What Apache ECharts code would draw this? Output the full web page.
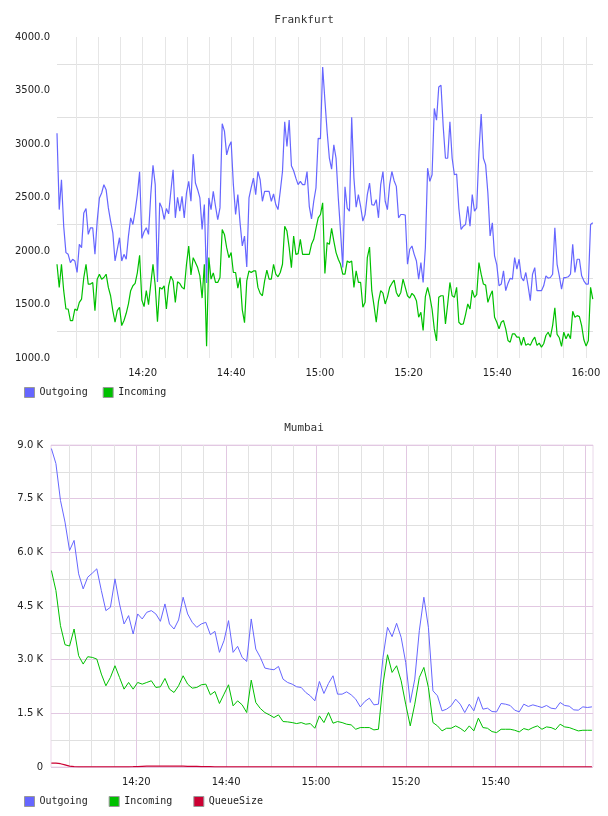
<!DOCTYPE html>
<html lang="en">
<head>
<meta charset="utf-8">
<title>Frankfurt / Mumbai</title>
<script src="https://cdn.jsdelivr.net/npm/echarts@6/dist/echarts.min.js"></script>
<style>
  body { margin: 0; background: #fff; }
  #main { width: 608px; height: 816px; }
</style>
</head>
<body>
<div id="main"></div>
<script type="text/javascript">
  // time is kept in minutes after 14:00
  // Frankfurt: one sample every 30 s from 14:00:40
  var fraStart = 40 / 60;
  var fraStep = 0.5;
  var fraOutgoing = [
    3100, 2387, 2666, 2232, 1985, 1969, 1892, 1923, 1907, 1799,
    2062, 2031, 2356, 2397, 2155, 2217, 2217, 1969, 2279, 2496,
    2542, 2620, 2573, 2403, 2279, 2170, 1907, 2015, 2124, 1907,
    1969, 1923, 2139, 2310, 2248, 2372, 2527, 2740, 2118, 2180,
    2217, 2155, 2527, 2800, 2620, 1710, 2450, 2403, 2295, 2397,
    2347, 2558, 2759, 2310, 2502, 2372, 2511, 2310, 2542, 2651,
    2465, 2905, 2635, 2573, 2496, 2202, 2434, 1700, 2496, 2387,
    2558, 2418, 2294, 2403, 3190, 3120, 2898, 2976, 3022, 2620,
    2341, 2527, 2263, 2047, 2140, 1850, 2496, 2595, 2681, 2527,
    2743, 2666, 2465, 2558, 2558, 2558, 2465, 2533, 2434, 2387,
    2558, 2743, 3208, 2976, 3223, 2796, 2750, 2681, 2620, 2651,
    2620, 2620, 2743, 2418, 2300, 2465, 2589, 3053, 3050, 3720,
    3409, 3115, 2867, 2765, 2992, 2867, 2496, 2186, 1845, 2600,
    2400, 2372, 3250, 2681, 2409, 2527, 2418, 2279, 2341, 2527,
    2635, 2434, 2428, 2480, 2310, 2620, 2743, 2465, 2387, 2620,
    2743, 2657, 2604, 2310, 2341, 2341, 2335, 1876, 2016, 2047,
    1969, 1907, 1737, 1892, 1706, 2031, 2774, 2651, 2713, 3332,
    3223, 3533, 3549, 3161, 2867, 2867, 3208, 2867, 2713, 2720,
    2400, 2201, 2232, 2248, 2418, 2232, 2527, 2372, 2403, 2929,
    3280, 2867, 2805, 2542, 2140, 2263, 1954, 1870, 1675, 1691,
    1814, 1629, 1697, 1746, 1737, 1938, 1830, 1923, 1752, 1721,
    1799, 1675, 1536, 1783, 1845, 1629, 1629, 1629, 1675, 1768,
    1746, 1752, 1783, 2217, 1876, 1768, 1644, 1752, 1752, 1759,
    1783, 2062, 1799, 1923, 1923, 1768, 1721, 1691, 1691, 2248,
    2263
  ];
  var fraIncoming = [
    1876, 1660, 1876, 1629, 1458, 1458, 1350, 1350, 1458, 1443,
    1520, 1551, 1752, 1876, 1691, 1691, 1706, 1443, 1737, 1783,
    1737, 1752, 1783, 1660, 1582, 1443, 1334, 1443, 1474, 1303,
    1350, 1418, 1505, 1629, 1675, 1697, 1799, 1960, 1542, 1480,
    1629, 1498, 1691, 1876, 1675, 1340, 1660, 1644, 1675, 1458,
    1675, 1765, 1721, 1520, 1712, 1697, 1660, 1644, 1876, 2046,
    1777, 1938, 1892, 1845, 1768, 1560, 1876, 1110, 1938, 1737,
    1796, 1706, 1706, 1752, 2200, 2155, 2031, 1938, 1985, 1799,
    1799, 1653, 1752, 1450, 1330, 1721, 1814, 1799, 1814, 1814,
    1660, 1604, 1582, 1721, 1821, 1737, 1737, 1876, 1783, 1759,
    1799, 1876, 2232, 2186, 2031, 1845, 2140, 1969, 1976, 2109,
    1969, 1969, 1969, 1969, 2062, 2109, 2211, 2310, 2341, 2450,
    1790, 2078, 2062, 2211, 2093, 1985, 1923, 1876, 1783, 1783,
    1907, 1892, 1907, 1660, 1814, 1706, 1706, 1474, 1520, 1938,
    2037, 1629, 1489, 1334, 1529, 1629, 1607, 1505, 1567, 1660,
    1697, 1728, 1613, 1573, 1613, 1737, 1660, 1582, 1560, 1604,
    1582, 1536, 1381, 1427, 1257, 1573, 1660, 1573, 1458, 1272,
    1160, 1567, 1582, 1582, 1319, 1505, 1706, 1582, 1567, 1660,
    1334, 1313, 1319, 1406, 1505, 1458, 1635, 1567, 1592, 1892,
    1783, 1691, 1681, 1520, 1582, 1629, 1381, 1334, 1272, 1334,
    1350, 1272, 1164, 1148, 1226, 1226, 1195, 1195, 1118, 1195,
    1118, 1133, 1118, 1164, 1195, 1118, 1139, 1102, 1133, 1210,
    1241, 1195, 1303, 1470, 1220, 1189, 1108, 1241, 1180, 1226,
    1180, 1437, 1381, 1396, 1387, 1303, 1170, 1111, 1164, 1660,
    1551
  ];

  // Mumbai: one sample per minute from 14:01:05
  var mumStart = 65 / 60;
  var mumStep = 1;
  var mumOutgoing = [
    8901, 8481, 7453, 6846, 6052, 6333, 5399, 4978, 5305, 5417,
    5539, 4932, 4371, 4465, 5258, 4558, 3998, 4231, 3717, 4278,
    4138, 4324, 4371, 4278, 4072, 4558, 3998, 3857, 4110, 4745,
    4278, 4044, 3904, 3998, 4044, 3699, 3792, 3204, 3531, 4091,
    3204, 3372, 3064, 2951, 4138, 3297, 3064, 2765, 2737, 2718,
    2811, 2456, 2363, 2316, 2242, 2223, 2083, 1989, 1849, 2391,
    2055, 2335, 2550, 2036, 2036, 2101, 2017, 1896, 1681, 1831,
    1924, 1737, 1756, 3064, 3904, 3643, 4016, 3624, 2923, 1803,
    2456, 3811, 4745, 3904, 2130, 1989, 1569, 1616, 1709, 1896,
    1756, 1522, 1756, 1569, 1961, 1616, 1644, 1550, 1541, 1775,
    1756, 1719, 1588, 1541, 1756, 1691, 1737, 1700, 1663, 1719,
    1644, 1625, 1803, 1719, 1700, 1597, 1588, 1681, 1663, 1681
  ];
  var mumIncoming = [
    5492, 4932, 3951, 3418, 3381, 3857, 3110, 2877, 3082, 3064,
    3017, 2597, 2270, 2503, 2830, 2503, 2176, 2363, 2176, 2363,
    2316, 2363, 2410, 2223, 2242, 2475, 2176, 2083, 2270, 2550,
    2316, 2204, 2223, 2298, 2316, 2017, 2111, 1775, 2036, 2298,
    1709, 1849, 1737, 1522, 2428, 1803, 1635, 1522, 1457, 1382,
    1457, 1270, 1261, 1242, 1214, 1242, 1196, 1214, 1083, 1429,
    1242, 1522, 1224, 1270, 1242, 1196, 1177, 1055, 1102, 1102,
    1102, 1037, 1055, 2316, 3138, 2643, 2830, 2410, 1756, 1149,
    1756, 2503, 2783, 2223, 1242, 1149, 1009, 1083, 1083, 1149,
    1083, 990, 1149, 1009, 1364, 1102, 1083, 990, 962, 1055,
    1055, 1055, 1027, 981, 1074, 1037, 1102, 1149, 1055, 1121,
    1102, 1046, 1196, 1121, 1102, 1055, 1009, 1027, 1027, 1027
  ];
  var mumQueueSize = [
    110, 106, 92, 60, 25, 10, 6, 5, 4, 4,
    3, 3, 3, 2, 2, 2, 3, 5, 8, 12,
    18, 22, 25, 26, 27, 27, 26, 25, 24, 22,
    20, 18, 15, 12, 10, 8, 6, 5, 4, 3,
    3, 2, 2, 2, 2, 2, 2, 2, 2, 2,
    2, 2, 2, 1, 1, 1, 1, 1, 1, 1,
    1, 1, 1, 1, 1, 1, 1, 1, 1, 1,
    1, 1, 1, 2, 2, 2, 2, 2, 1, 1,
    1, 1, 1, 1, 1, 1, 1, 1, 1, 1,
    1, 1, 1, 1, 1, 1, 1, 1, 1, 1,
    1, 1, 1, 1, 1, 1, 1, 1, 1, 1,
    1, 1, 1, 1, 1, 1, 1, 1, 1, 1
  ];

  // tick labels (minutes after 14:00)
  var fraTimeTicks = [20, 40, 60, 80, 100, 120];
  var mumTimeTicks = [20, 40, 60, 80, 100];

  function pad(n) { return n < 10 ? '0' + n : '' + n; }

  function toPairs(start, step, values) {
    return values.map(function (v, i) { return [start + i * step, v]; });
  }

  function timeLabel(list) {
    return function (m) {
      if (list.indexOf(m) < 0) return '';
      return pad(14 + Math.floor(m / 60)) + ':' + pad(m % 60);
    };
  }

  var labelFont = { color: '#222', fontFamily: 'DejaVu Sans', fontSize: 10 };
  var monoFont = { color: '#222', fontFamily: 'DejaVu Sans Mono', fontSize: 10 };
  var titleFont = { fontFamily: 'DejaVu Sans Mono', fontSize: 11, fontWeight: 'normal', color: '#333' };
  var blue = '#6666ff', green = '#00c000', red = '#cc0033';
  var hidden = { show: false };

  var myChart = echarts.init(document.getElementById('main'));

  var option = {
    animation: false,
    backgroundColor: '#fff',
    title: [
      { text: 'Frankfurt', left: 'center', top: 15, padding: 0, textStyle: titleFont },
      { text: 'Mumbai', left: 'center', top: 423, padding: 0, textStyle: titleFont }
    ],
    legend: [
      { left: 24, top: 387, padding: 0, icon: 'rect', itemWidth: 10, itemHeight: 10, itemGap: 15,
        data: ['Outgoing', 'Incoming'],
        itemStyle: { borderColor: '#999', borderWidth: 1 },
        textStyle: monoFont },
      { left: 24, top: 796, padding: 0, icon: 'rect', itemWidth: 10, itemHeight: 10, itemGap: 21,
        data: ['Outgoing', 'Incoming', 'QueueSize'],
        itemStyle: { borderColor: '#999', borderWidth: 1 },
        textStyle: monoFont }
    ],
    // 0/2: data plots, 1/3: the 14:00..16:05 time frames behind them (same scale)
    grid: [
      { left: 57, top: 37, width: 536, height: 321 },
      { left: 54, top: 37, width: 558.1, height: 321 },
      { left: 51, top: 445, width: 542, height: 322, show: true,
        borderColor: '#ead8ea', borderWidth: 1, backgroundColor: 'transparent' },
      { left: 46.45, top: 445, width: 567.8, height: 322 }
    ],
    xAxis: [
      { gridIndex: 0, type: 'value', min: 40 / 60, max: 40 / 60 + 536 / 4.465, show: false },
      {
        gridIndex: 1, type: 'value', position: 'bottom', min: 0, max: 125, interval: 5,
        axisLine: hidden, axisTick: hidden,
        splitLine: { show: true, showMinLine: false, showMaxLine: false, lineStyle: { color: '#e6e6e6' } },
        axisLabel: Object.assign({ formatter: timeLabel(fraTimeTicks), margin: 10,
          showMinLabel: false, showMaxLabel: false }, labelFont)
      },
      { gridIndex: 2, type: 'value', min: 1, max: 1 + 542 / 4.5425, show: false },
      {
        gridIndex: 3, type: 'value', position: 'top', min: 0, max: 125, interval: 5,
        axisLine: hidden, axisTick: hidden, axisLabel: hidden,
        splitLine: { show: true, showMinLine: false, showMaxLine: false, lineStyle: { color: '#e2e2e2' } }
      },
      {
        gridIndex: 3, type: 'value', position: 'bottom', min: 0, max: 125, interval: 20,
        axisLine: hidden, axisTick: hidden,
        splitLine: { show: true, showMinLine: false, showMaxLine: false, lineStyle: { color: '#e2c8e2' } },
        axisLabel: Object.assign({ formatter: timeLabel(mumTimeTicks), margin: 10,
          showMinLabel: false, showMaxLabel: false }, labelFont)
      }
    ],
    yAxis: [
      {
        gridIndex: 0, type: 'value', min: 1000, max: 4000, interval: 500,
        axisLine: hidden, axisTick: hidden,
        splitLine: hidden,
        minorTick: { show: false, splitNumber: 2 },
        minorSplitLine: { show: true, lineStyle: { color: '#e0e0e0' } },
        axisLabel: Object.assign({ margin: 7, formatter: function (v) { return v.toFixed(1); } }, labelFont)
      },
      { gridIndex: 1, type: 'value', min: 1000, max: 4000, show: false },
      {
        gridIndex: 2, type: 'value', min: 0, max: 9000, interval: 1500,
        axisLine: hidden, axisTick: hidden,
        splitLine: { show: true, lineStyle: { color: '#e2c8e2' } },
        minorTick: { show: false, splitNumber: 2 },
        minorSplitLine: { show: true, lineStyle: { color: '#e0e0e0' } },
        axisLabel: Object.assign({ margin: 8, formatter: function (v) {
          return v === 0 ? '0' : (v / 1000).toFixed(1) + ' K';
        } }, labelFont)
      },
      { gridIndex: 3, type: 'value', min: 0, max: 9000, show: false }
    ],
    series: [
      { name: 'Outgoing', type: 'line', xAxisIndex: 0, yAxisIndex: 0, showSymbol: false,
        data: toPairs(fraStart, fraStep, fraOutgoing),
        itemStyle: { color: blue }, lineStyle: { color: blue, width: 1.2 } },
      { name: 'Incoming', type: 'line', xAxisIndex: 0, yAxisIndex: 0, showSymbol: false,
        data: toPairs(fraStart, fraStep, fraIncoming),
        itemStyle: { color: green }, lineStyle: { color: green, width: 1.2 } },
      { name: 'Outgoing', type: 'line', xAxisIndex: 2, yAxisIndex: 2, showSymbol: false,
        data: toPairs(mumStart, mumStep, mumOutgoing),
        itemStyle: { color: blue }, lineStyle: { color: blue, width: 1 } },
      { name: 'Incoming', type: 'line', xAxisIndex: 2, yAxisIndex: 2, showSymbol: false,
        data: toPairs(mumStart, mumStep, mumIncoming),
        itemStyle: { color: green }, lineStyle: { color: green, width: 1 } },
      { name: 'QueueSize', type: 'line', xAxisIndex: 2, yAxisIndex: 2, showSymbol: false,
        data: toPairs(mumStart, mumStep, mumQueueSize),
        itemStyle: { color: red }, lineStyle: { color: red, width: 1.2 } }
    ]
  };

  myChart.setOption(option);
</script>
</body>
</html>
